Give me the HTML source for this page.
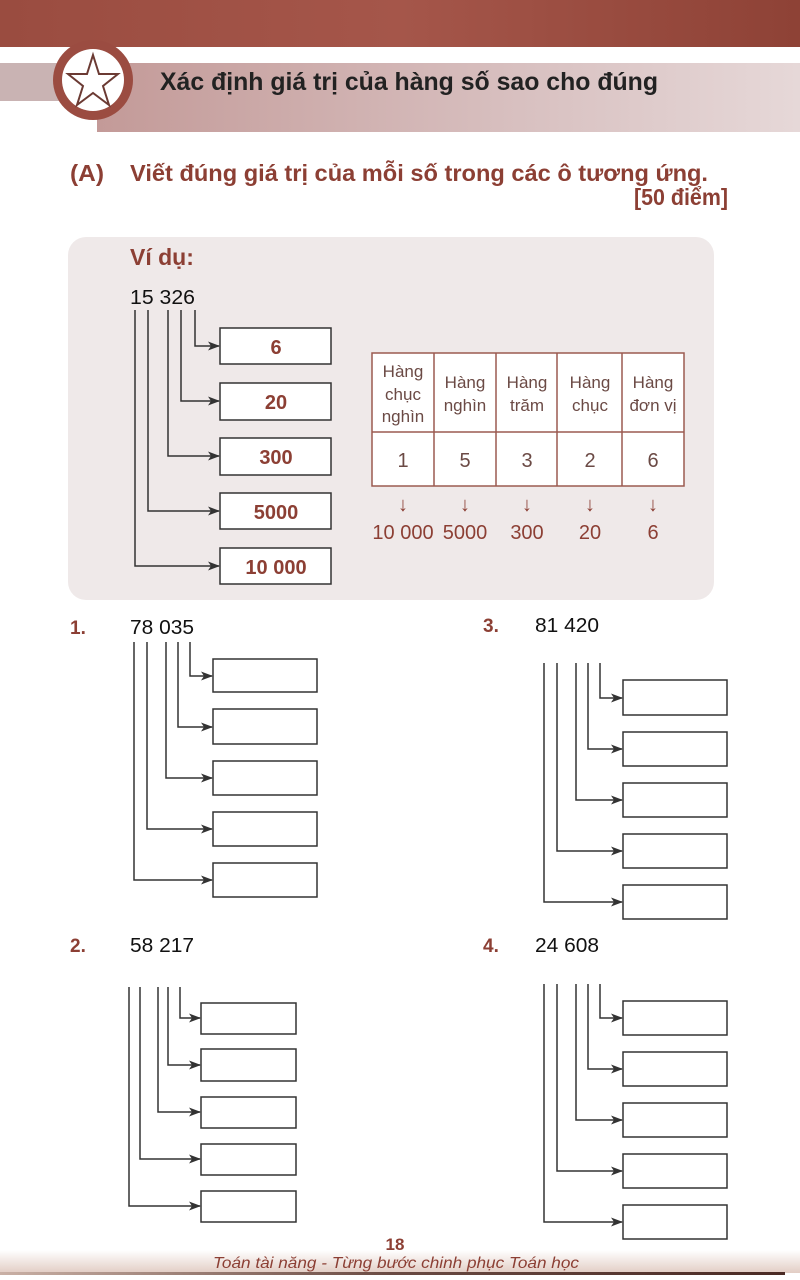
<!DOCTYPE html>
<html><head><meta charset="utf-8"><style>
html,body{margin:0;padding:0;background:#fff;}
svg{display:block;font-family:"Liberation Sans",sans-serif;}
</style></head><body>
<svg width="800" height="1280" viewBox="0 0 800 1280" xmlns="http://www.w3.org/2000/svg">
<defs>
<linearGradient id="top" x1="0" x2="1" y1="0" y2="0">
<stop offset="0" stop-color="#9a4c40"/><stop offset="0.5" stop-color="#a5564a"/><stop offset="1" stop-color="#8e4236"/></linearGradient>
<linearGradient id="band" x1="0" x2="1">
<stop offset="0" stop-color="#c39a98"/><stop offset="0.6" stop-color="#d8c0c0"/><stop offset="1" stop-color="#e6d8d8"/></linearGradient>
<linearGradient id="foot" x1="0" x2="0" y1="0" y2="1">
<stop offset="0" stop-color="#ffffff"/><stop offset="1" stop-color="#e2cdc4"/></linearGradient>
<linearGradient id="footl" x1="0" x2="1">
<stop offset="0" stop-color="#c9b0a5"/><stop offset="0.5" stop-color="#6a4a42"/><stop offset="1" stop-color="#4a2a24"/></linearGradient>
<marker id="ar" markerWidth="12" markerHeight="9" refX="11" refY="4.5" orient="auto" markerUnits="userSpaceOnUse">
<path d="M0,0 L12,4.5 L0,9 L3,4.5 Z" fill="#333"/></marker>
</defs>
<!-- header -->
<rect x="0" y="0" width="800" height="47" fill="url(#top)"/>
<rect x="0" y="63" width="100" height="38" fill="#c9b3b3"/>
<rect x="97" y="63" width="703" height="69" fill="url(#band)"/>
<circle cx="93" cy="80" r="40" fill="#9b4c41"/>
<circle cx="93" cy="80" r="31" fill="#fff"/>
<polygon points="93,55 99,74 118,74 103,86 109,105 93,93 77,105 83,86 68,74 87,74" fill="#fff" stroke="#6b3a33" stroke-width="2"/>
<text x="160" y="90" font-size="25" font-weight="bold" fill="#222" textLength="498" lengthAdjust="spacingAndGlyphs">Xác định giá trị của hàng số sao cho đúng</text>
<g fill="#8c3f34" font-weight="bold" font-size="23">
<text x="70" y="181" textLength="34" lengthAdjust="spacingAndGlyphs">(A)</text>
<text x="130" y="181" textLength="578" lengthAdjust="spacingAndGlyphs">Viết đúng giá trị của mỗi số trong các ô tương ứng.</text>
<text x="634" y="205" textLength="94" lengthAdjust="spacingAndGlyphs">[50 điểm]</text>
</g>
<!-- example panel -->
<rect x="68" y="237" width="646" height="363" rx="18" fill="#efe9e9"/>
<text x="130" y="265" font-size="23" font-weight="bold" fill="#8c3f34">Ví dụ:</text>
<text x="130" y="304" font-size="20" fill="#111" textLength="65" lengthAdjust="spacingAndGlyphs">15 326</text>
<g stroke="#333" stroke-width="1.5" fill="none" marker-end="url(#ar)">
<path d="M195,310 V346 H219"/><path d="M181,310 V401 H219"/><path d="M168,310 V456 H219"/><path d="M148,310 V511 H219"/><path d="M135,310 V566 H219"/>
</g>
<g stroke="#333" stroke-width="1.5" fill="#fff">
<rect x="220" y="328" width="111" height="36"/><rect x="220" y="383" width="111" height="37"/><rect x="220" y="438" width="111" height="37"/><rect x="220" y="493" width="111" height="36"/><rect x="220" y="548" width="111" height="36"/>
</g>
<g fill="#8c3f34" font-weight="bold" font-size="20" text-anchor="middle">
<text x="276" y="354">6</text><text x="276" y="409">20</text><text x="276" y="464">300</text><text x="276" y="519">5000</text><text x="276" y="574">10 000</text>
</g>
<!-- table -->
<rect x="372" y="353" width="312" height="133" fill="#fff" stroke="#9b5a50" stroke-width="1.5"/>
<g stroke="#9b5a50" stroke-width="1.5">
<line x1="372" y1="432" x2="684" y2="432"/><line x1="434" y1="353" x2="434" y2="486"/><line x1="496" y1="353" x2="496" y2="486"/><line x1="557" y1="353" x2="557" y2="486"/><line x1="622" y1="353" x2="622" y2="486"/>
</g>
<g fill="#6b4a45" font-size="17" text-anchor="middle">
<text x="403" y="377">Hàng</text><text x="403" y="400">chục</text><text x="403" y="422">nghìn</text>
<text x="465" y="388">Hàng</text><text x="465" y="411">nghìn</text>
<text x="527" y="388">Hàng</text><text x="527" y="411">trăm</text>
<text x="590" y="388">Hàng</text><text x="590" y="411">chục</text>
<text x="653" y="388">Hàng</text><text x="653" y="411">đơn vị</text>
<g font-size="20"><text x="403" y="467">1</text><text x="465" y="467">5</text><text x="527" y="467">3</text><text x="590" y="467">2</text><text x="653" y="467">6</text></g>
</g>
<g fill="#8c3f34" font-size="20" text-anchor="middle">
<text x="403" y="511">↓</text><text x="465" y="511">↓</text><text x="527" y="511">↓</text><text x="590" y="511">↓</text><text x="653" y="511">↓</text>
<text x="403" y="539">10 000</text><text x="465" y="539">5000</text><text x="527" y="539">300</text><text x="590" y="539">20</text><text x="653" y="539">6</text>
</g>
<!-- problems labels -->
<g fill="#8c3f34" font-weight="bold" font-size="19">
<text x="70" y="634">1.</text><text x="483" y="632">3.</text><text x="70" y="952">2.</text><text x="483" y="952">4.</text>
</g>
<g fill="#111" font-size="20">
<text x="130" y="634" textLength="64" lengthAdjust="spacingAndGlyphs">78 035</text>
<text x="535" y="632" textLength="64" lengthAdjust="spacingAndGlyphs">81 420</text>
<text x="130" y="952" textLength="64" lengthAdjust="spacingAndGlyphs">58 217</text>
<text x="535" y="952" textLength="64" lengthAdjust="spacingAndGlyphs">24 608</text>
</g>
<g stroke="#333" stroke-width="1.5" fill="none" marker-end="url(#ar)">
<path d="M190,642 V676 H212"/><path d="M178,642 V727 H212"/><path d="M166,642 V778 H212"/><path d="M147,642 V829 H212"/><path d="M134,642 V880 H212"/>
<path d="M600,663 V698 H622"/><path d="M588,663 V749 H622"/><path d="M576,663 V800 H622"/><path d="M557,663 V851 H622"/><path d="M544,663 V902 H622"/>
<path d="M180,987 V1018 H200"/><path d="M168,987 V1065 H200"/><path d="M158,987 V1112 H200"/><path d="M140,987 V1159 H200"/><path d="M129,987 V1206 H200"/>
<path d="M600,984 V1018 H622"/><path d="M588,984 V1069 H622"/><path d="M576,984 V1120 H622"/><path d="M557,984 V1171 H622"/><path d="M544,984 V1222 H622"/>
</g>
<g stroke="#333" stroke-width="1.5" fill="#fff">
<rect x="213" y="659" width="104" height="33"/><rect x="213" y="709" width="104" height="35"/><rect x="213" y="761" width="104" height="34"/><rect x="213" y="812" width="104" height="34"/><rect x="213" y="863" width="104" height="34"/>
<rect x="623" y="680" width="104" height="35"/><rect x="623" y="732" width="104" height="34"/><rect x="623" y="783" width="104" height="34"/><rect x="623" y="834" width="104" height="34"/><rect x="623" y="885" width="104" height="34"/>
<rect x="201" y="1003" width="95" height="31"/><rect x="201" y="1049" width="95" height="32"/><rect x="201" y="1097" width="95" height="31"/><rect x="201" y="1144" width="95" height="31"/><rect x="201" y="1191" width="95" height="31"/>
<rect x="623" y="1001" width="104" height="34"/><rect x="623" y="1052" width="104" height="34"/><rect x="623" y="1103" width="104" height="34"/><rect x="623" y="1154" width="104" height="34"/><rect x="623" y="1205" width="104" height="34"/>
</g>
<!-- footer -->
<rect x="0" y="1250" width="800" height="23" fill="url(#foot)"/>
<rect x="0" y="1272" width="785" height="3" fill="url(#footl)"/>
<text x="395" y="1250" font-size="17" font-weight="bold" fill="#8c3f34" text-anchor="middle">18</text>
<text x="396" y="1268" font-size="16" font-style="italic" fill="#8c3f34" text-anchor="middle" textLength="366" lengthAdjust="spacingAndGlyphs">Toán tài năng - Từng bước chinh phục Toán học</text>
</svg>
</body></html>
